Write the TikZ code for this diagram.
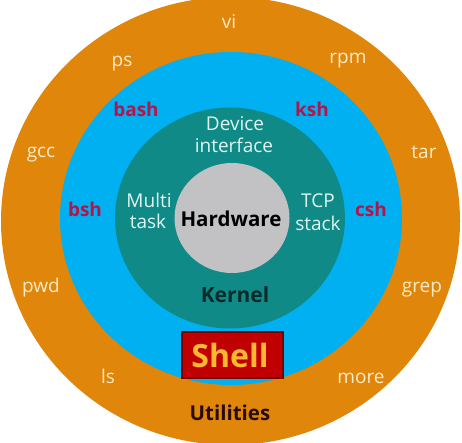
\documentclass[tikz,border=0pt]{standalone}
\usepackage{fontspec}
\setmainfont{Open Sans}
\usetikzlibrary{positioning}
\definecolor{ringorange}{HTML}{E0860B}
\definecolor{ringblue}{HTML}{00B0F0}
\definecolor{ringteal}{HTML}{0F8A87}
\definecolor{coregray}{HTML}{C2C2C4}
\definecolor{utiltext}{HTML}{FDEBC8}
\definecolor{shelltext}{HTML}{B3154D}
\definecolor{kerntext}{HTML}{E0F5F2}
\definecolor{kerndark}{HTML}{0B2B2B}
\definecolor{utildark}{HTML}{2A0C05}
\definecolor{shellred}{HTML}{C00000}
\definecolor{shellborder}{HTML}{7A0000}
\definecolor{shellyellow}{HTML}{FFB92E}
\tikzset{
  lab/.style={inner sep=0pt, anchor=base, font=\fontsize{19}{21}\selectfont},
  utillab/.style={lab, text=utiltext},
  shelllab/.style={lab, text=shelltext, font=\fontsize{19}{21}\selectfont\bfseries},
  kernlab/.style={lab, text=kerntext},
  title/.style={lab, font=\fontsize{20.5}{22}\selectfont\bfseries}
}
\begin{document}
\begin{tikzpicture}[x=1pt,y=-1pt]
\useasboundingbox (0,0) rectangle (462,443);
\clip (0,0) rectangle (462,443);
\fill[white] (0,0) rectangle (462,443);
% rings
\fill[ringorange] (230.5,221) ellipse [x radius=229.5pt, y radius=224pt];
\fill[ringblue] (231,218.5) ellipse [x radius=171pt, y radius=166.5pt];
\fill[ringteal] (230,218) ellipse [x radius=115pt, y radius=110.5pt];
\fill[coregray] (232,218) ellipse [x radius=57.5pt, y radius=55pt];
% utilities ring
\node[utillab] (vi) at (229,29) {vi};
\node[utillab] (ps) at (122,67) {ps};
\node[utillab] (rpm) at (348,64) {rpm};
\node[utillab] (gcc) at (41,158) {gcc};
\node[utillab] (tar) at (424,159) {tar};
\node[utillab] (pwd) at (41,292) {pwd};
\node[utillab] (grep) at (422,292) {grep};
\node[utillab] (ls) at (108,383) {ls};
\node[utillab] (more) at (361,383) {more};
\node[title, text=utildark, font=\fontsize{20.5}{23}\selectfont\bfseries] (util) at (230,420) {Utilities};
% shell ring
\node[shelllab] (bash) at (136,117) {bash};
\node[shelllab] (ksh) at (312,117) {ksh};
\node[shelllab] (bsh) at (85,217) {bsh};
\node[shelllab] (csh) at (371,217) {csh};
% shell box
\node[draw=shellborder, line width=1.2pt, fill=shellred, minimum width=101pt, minimum height=46pt, inner sep=0pt] (shellbox) at (232.5,355) {};
\node[title, text=shellyellow, font=\fontsize{32}{34}\selectfont\bfseries] (shell) at (230,367) {Shell};
% kernel ring
\node[kernlab] (device) at (235,131) {Device};
\node[kernlab] (iface) at (234,153) {interface};
\node[kernlab] (multi) at (149,208) {Multi};
\node[kernlab] (task) at (148,229) {task};
\node[kernlab] (tcp) at (318,208) {TCP};
\node[kernlab] (stack) at (318,230) {stack};
\node[title, text=kerndark, font=\fontsize{21}{23}\selectfont\bfseries] (kernel) at (235,302) {Kernel};
% core
\node[title, text=black, font=\fontsize{20.5}{22}\selectfont\bfseries] (hw) at (231,226) {Hardware};
\end{tikzpicture}
\end{document}
